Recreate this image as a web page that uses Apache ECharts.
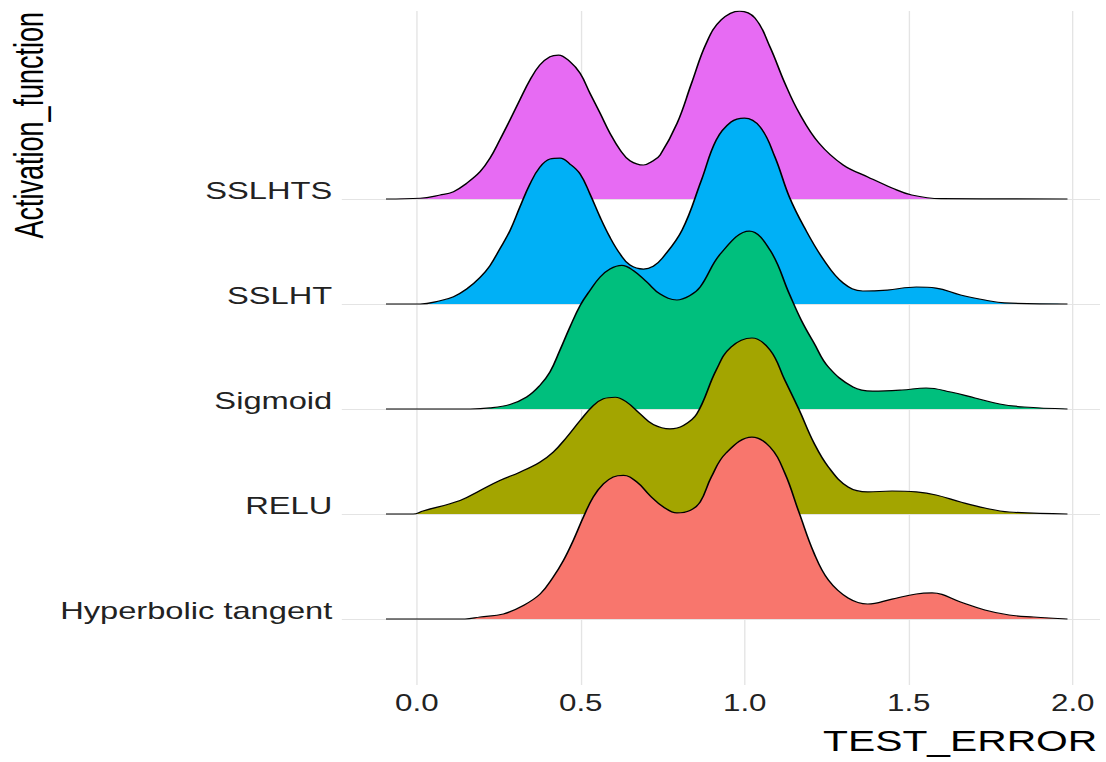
<!DOCTYPE html>
<html>
<head>
<meta charset="utf-8">
<script src="https://cdn.jsdelivr.net/npm/echarts@6/dist/echarts.min.js"></script>
<style>
html,body{margin:0;padding:0;background:#fff;overflow:hidden;}
#wrap{width:813px;height:762px;transform-origin:0 0;}
</style>
</head>
<body>
<div id="wrap"></div>
<script>
// ---- data ----
const categories = ['Hyperbolic tangent', 'RELU', 'Sigmoid', 'SSLHT', 'SSLHTS']; // bottom -> top
const colors = ['#F8766D', '#A3A500', '#00BF7D', '#00B0F6', '#E76BF3'];
const xTicks = [0, 0.5, 1, 1.5, 2];
const xTitle = 'TEST_ERROR';
const yTitle = 'Activation_function';

// ridge outlines: TEST_ERROR positions and ridge heights (row units)
const htX = [-0.094,0.147,0.193,0.264,0.325,0.376,0.416,0.447,0.477,0.508,0.538,0.569,0.599,0.630,0.671,0.711,0.752,0.793,0.833,0.864,0.898,0.943,1.022,1.077,1.122,1.166,1.211,1.255,1.315,1.375,1.449,1.523,1.571,1.658,1.732,1.806,1.881,1.984];
const htH = [0,0,0.019,0.048,0.129,0.238,0.4,0.557,0.748,0.971,1.162,1.286,1.352,1.367,1.305,1.176,1.067,1.01,1.033,1.114,1.352,1.581,1.733,1.638,1.39,1.01,0.629,0.371,0.2,0.143,0.19,0.238,0.248,0.162,0.086,0.038,0.019,0];

const reluX = [-0.094,-0.011,0.019,0.132,0.193,0.253,0.314,0.375,0.416,0.457,0.498,0.538,0.569,0.605,0.640,0.681,0.721,0.772,0.813,0.854,0.913,0.958,1.022,1.077,1.122,1.166,1.211,1.255,1.315,1.375,1.449,1.523,1.583,1.658,1.732,1.806,1.984];
const reluH = [0,0,0.029,0.129,0.224,0.319,0.398,0.493,0.589,0.731,0.89,1.033,1.097,1.112,1.065,0.954,0.852,0.811,0.843,0.954,1.371,1.59,1.676,1.562,1.276,0.99,0.676,0.448,0.257,0.21,0.219,0.21,0.181,0.114,0.057,0.019,0];

const sigX = [-0.094,0.163,0.223,0.284,0.335,0.375,0.406,0.436,0.467,0.498,0.528,0.559,0.589,0.625,0.660,0.701,0.742,0.793,0.833,0.864,0.928,1.014,1.077,1.136,1.172,1.211,1.255,1.330,1.390,1.479,1.553,1.628,1.702,1.777,1.852,1.984];
const sigH = [0,0,0.01,0.043,0.114,0.224,0.352,0.557,0.781,0.986,1.129,1.257,1.333,1.367,1.319,1.21,1.095,1.038,1.081,1.162,1.486,1.695,1.514,1.095,0.848,0.629,0.4,0.21,0.171,0.181,0.2,0.162,0.105,0.048,0.019,0];

const ssX = [-0.094,0.010,0.071,0.112,0.152,0.193,0.223,0.253,0.284,0.314,0.345,0.375,0.406,0.437,0.467,0.498,0.528,0.559,0.589,0.620,0.650,0.691,0.721,0.749,0.809,0.868,0.913,0.958,0.999,1.047,1.092,1.136,1.181,1.241,1.300,1.360,1.434,1.523,1.583,1.658,1.732,1.792,1.984];
const ssH = [0,0,0.031,0.07,0.143,0.254,0.365,0.524,0.698,0.921,1.143,1.302,1.381,1.39,1.333,1.238,1.048,0.826,0.635,0.476,0.371,0.333,0.359,0.438,0.705,1.181,1.562,1.733,1.771,1.686,1.4,1.019,0.733,0.419,0.2,0.124,0.133,0.162,0.152,0.086,0.038,0.01,0];

const sstsX = [-0.094,0.010,0.071,0.112,0.152,0.193,0.223,0.253,0.284,0.314,0.345,0.375,0.406,0.432,0.467,0.498,0.528,0.559,0.589,0.620,0.650,0.691,0.721,0.742,0.794,0.838,0.883,0.928,0.984,1.031,1.077,1.122,1.166,1.226,1.300,1.375,1.449,1.509,1.598,1.984];
const sstsH = [0,0.007,0.038,0.07,0.15,0.26,0.388,0.562,0.752,0.943,1.133,1.276,1.355,1.371,1.308,1.197,1.007,0.816,0.626,0.467,0.365,0.324,0.365,0.419,0.724,1.105,1.486,1.705,1.79,1.724,1.448,1.105,0.819,0.533,0.324,0.21,0.105,0.038,0.003,0];

const ridgeX = [htX, reluX, sigX, ssX, sstsX];
const ridgeH = [htH, reluH, sigH, ssH, sstsH];

// ---- layout ----
const S = 1106 / 813;
const wrap = document.getElementById('wrap');
wrap.style.transform = 'scaleX(' + S + ')';
const FONT = '"Liberation Sans", Arial, Helvetica, sans-serif';

const chart = echarts.init(wrap, null, { renderer: 'svg', width: 813, height: 762 });

const series = [];
// draw from top row (back) to bottom row (front)
for (let i = categories.length - 1; i >= 0; i--) {
  const pos = i + 1;
  const xsArr = ridgeX[i];
  const hArr = ridgeH[i];
  const s = {
    type: 'line',
    name: categories[i],
    data: xsArr.map((x, j) => [x, pos + hArr[j]]),
    smooth: 0.4,
    symbol: 'none',
    silent: true,
    z: 2,
    lineStyle: { color: '#000', width: 1.2 },
    areaStyle: { color: colors[i], opacity: 1, origin: pos }
  };
  if (i === categories.length - 1) {
    s.markLine = {
      silent: true,
      z: 1,
      symbol: ['none', 'none'],
      label: { show: false },
      animation: false,
      lineStyle: { color: '#e4e4e4', width: 1, type: 'solid' },
      emphasis: { disabled: true },
      data: xTicks.map(v => ({ xAxis: v })).concat(categories.map((c, k) => ({ yAxis: k + 1 })))
    };
  }
  series.push(s);
}

chart.setOption({
  animation: false,
  backgroundColor: '#fff',
  grid: { left: 251.25, right: 4.4, top: 11, bottom: 77 },
  xAxis: {
    type: 'value',
    min: -0.2287,
    max: 2.0832,
    axisLine: { show: false },
    axisTick: { show: false },
    splitLine: { show: false },
    axisLabel: {
      customValues: xTicks,
      formatter: v => Number(v).toFixed(1),
      fontFamily: FONT,
      fontSize: 23,
      color: '#222',
      margin: 7
    }
  },
  yAxis: {
    type: 'value',
    min: 0.3714,
    max: 6.7905,
    axisLine: { show: false },
    axisTick: { show: false },
    splitLine: { show: false },
    axisLabel: {
      customValues: [1, 2, 3, 4, 5],
      formatter: v => categories[Math.round(v) - 1] || '',
      fontFamily: FONT,
      fontSize: 24,
      color: '#222',
      verticalAlign: 'bottom',
      lineHeight: 17,
      margin: 7
    }
  },
  graphic: [
    {
      type: 'text',
      x: 806.6, y: 741,
      silent: true,
      style: { text: xTitle, font: '30px ' + FONT, fill: '#000', align: 'right', verticalAlign: 'middle' }
    },
    {
      type: 'text',
      x: 21.3, y: 12,
      rotation: Math.PI / 2,
      scaleX: 0.9,
      silent: true,
      style: { text: yTitle, font: '30px ' + FONT, fill: '#000', align: 'right', verticalAlign: 'middle' }
    }
  ],
  series: series
});
</script>
</body>
</html>
